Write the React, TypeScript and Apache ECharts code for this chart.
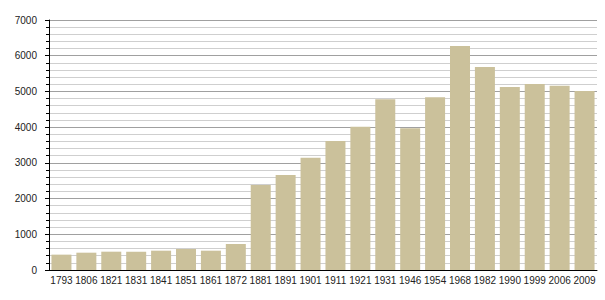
import React, { useEffect, useRef } from "react";
import * as echarts from "echarts";

const years = ["1793","1806","1821","1831","1841","1851","1861","1872","1881","1891","1901","1911","1921","1931","1946","1954","1968","1982","1990","1999","2006","2009"];
const population = [430, 485, 513, 513, 541, 588, 541, 728, 2380, 2660, 3145, 3612, 4013, 4779, 3967, 4835, 6272, 5684, 5124, 5208, 5161, 5012];
const yTicks = { min: 0, max: 7000, interval: 1000 };

export default function App() {
  const ref = useRef<HTMLDivElement>(null);
  useEffect(() => {
    const chart = echarts.init(ref.current!, null, { renderer: "svg" });
    chart.setOption({
      animation: false,
      grid: { left: 49, right: 8, top: 20, bottom: 30, containLabel: false },
      xAxis: {
        type: "category",
        data: years,
        axisLine: { lineStyle: { color: "#000", width: 1 } },
        axisTick: { show: false },
        axisLabel: { interval: 0, color: "#222", fontSize: 10, fontFamily: "Liberation Sans, Arial", margin: 5 },
        splitLine: { show: false },
      },
      yAxis: {
        type: "value",
        min: yTicks.min,
        max: yTicks.max,
        interval: yTicks.interval,
        axisLine: { show: true, lineStyle: { color: "#000", width: 1 } },
        axisTick: { show: true, length: 4, lineStyle: { color: "#000" } },
        minorTick: { show: true, splitNumber: 5, length: 3, lineStyle: { color: "#000" } },
        axisLabel: { color: "#222", fontSize: 10, fontFamily: "Liberation Sans, Arial", margin: 12, formatter: (v: number) => String(v) },
        splitLine: { show: true, lineStyle: { color: "#a0a0a0", width: 1 } },
        minorSplitLine: { show: true, lineStyle: { color: "#cfcfcf", width: 1 } },
      },
      series: [
        {
          type: "bar",
          data: population,
          barWidth: 20,
          itemStyle: { color: "#cbc19b" },
        },
      ],
    });
    return () => chart.dispose();
  }, []);
  return <div ref={ref} style={{ width: 605, height: 300, position: "absolute", left: 0, top: 0 }} />;
}
